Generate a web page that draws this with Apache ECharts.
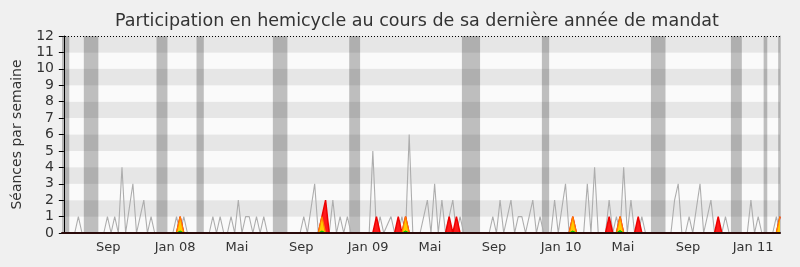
<!DOCTYPE html>
<html>
<head>
<meta charset="utf-8">
<script src="https://cdn.jsdelivr.net/npm/echarts@6/dist/echarts.min.js"></script>
<style>
html,body{margin:0;padding:0;background:#f0f0f0;}
#c{width:800px;height:267px;}
</style>
</head>
<body>
<div id="c"></div>
<script>
// Weekly values (week index 0..197)
const grayWeekly = [
  0,0,0,0,1,0,0,0,0,0,
  0,0,1,0,1,0,4,0,1.5,3,
  0,1,2,0,1,0,0,0,0,0,
  0,1,0,1,0,0,0,0,0,0,
  0,1,0,1,0,0,1,0,2,0,
  1,1,0,1,0,1,0,0,0,0,
  0,0,0,0,0,0,1,0,1.5,3,
  0,0,1,0,2,0,1,0,1,0,
  0,0,0,0,0,5,0,1,0,0.5,
  1,0,0,1,0,6,0,0,0,1,
  2,0,3,0,2,0,1,2,0,1,
  0,0,0,0,0,0,0,0,1,0,
  2,0,1,2,0,1,1,0,1,2,
  0,1,0,0,0,2,0,1.5,3,0,
  0,0,0,0,3,0,4,0,0,0,
  2,0,1,0,4,0,2,0,0,1,
  0,0,0,0,0,0,0,0,2,3,
  0,0,1,0,1.5,3,0,1,2,0,
  0,0,1,0,0,0,0,0,0,2,
  0,1,0,0,0,0,1,0
];
// sparse [week, value]
const redWeeks = [[32,1],[71,1],[72,2],[86,1],[92,1],[94,1],[106,1],[108,1],[140,1],[150,1],[153,1],[158,1],[180,1],[197,1]];
const yellowWeeks = [[32,1],[71,1],[94,1],[140,1],[153,1],[197,1]];
const greenWeeks = [[32,0.12],[71,0.12],[94,0.12],[140,0.12],[153,0.15]];
// vacation periods [first week, last week]
const vacances = [[0,1],[6,9],[26,28],[37,38],[58,61],[79,81],[110,114],[132,133],[162,165],[184,186],[193,193],[197,197]];
// x tick labels and their week positions
const xTickLabels = ['Sep','Jan 08','Mai','Sep','Jan 09','Mai','Sep','Jan 10','Mai','Sep','Jan 11'];
const xTickWeeks = [12.2,30.6,47.6,65.3,83.7,100.7,118.3,136.8,153.8,171.7,189.6];
const yTicks = [0,1,2,3,4,5,6,7,8,9,10,11,12];

const N = grayWeekly.length;
function expand(sparse){
  const arr = new Array(N).fill(0);
  sparse.forEach(([w,v]) => { arr[w] = v; });
  return arr.map((v,i)=>[i,v]);
}
const grayData = grayWeekly.map((v,i)=>[i,v]);
const redData = expand(redWeeks);
const yellowData = expand(yellowWeeks);
const greenData = expand(greenWeeks);

const chart = echarts.init(document.getElementById('c'), null, {renderer:'canvas'});
const FONT = 'DejaVu Sans';
chart.setOption({
  animation:false,
  backgroundColor:'#f0f0f0',
  textStyle:{fontFamily:FONT},
  title:{
    text:'Participation en hemicycle au cours de sa dernière année de mandat',
    left:110, top:7,
    textStyle:{fontFamily:FONT,fontSize:17.5,fontWeight:'normal',color:'#333'}
  },
  grid:{left:62,right:20,top:36,bottom:34},
  xAxis:{
    type:'value', min:-0.5, max:N-1, z:10,
    axisLine:{show:true,onZero:false,lineStyle:{color:'#2a0a0a',width:2}},
    axisTick:{show:false},
    splitLine:{show:false},
    axisLabel:{
      customValues:xTickWeeks,
      color:'#333', fontFamily:FONT, fontSize:13, margin:8,
      formatter:function(v){
        let best=0, d=1e9;
        xTickWeeks.forEach((w,k)=>{ if(Math.abs(w-v)<d){d=Math.abs(w-v);best=k;} });
        return xTickLabels[best];
      }
    }
  },
  yAxis:[{
    type:'value', min:0, max:12, interval:1,
    name:'Séances par semaine', nameLocation:'middle', nameGap:38,
    nameTextStyle:{fontFamily:FONT,fontSize:14,color:'#333'},
    axisLine:{show:true,lineStyle:{color:'#000',width:1}},
    axisTick:{show:true,length:5,lineStyle:{color:'#000'}},
    axisLabel:{color:'#333',fontFamily:FONT,fontSize:14,margin:8},
    splitLine:{show:false},
    splitArea:{show:true,areaStyle:{color:['#fafafa','#e6e6e6']}}
  },{
    type:'value', min:0, max:12, position:'right',
    axisLine:{show:true,lineStyle:{color:'#c4c4c4',width:1}},
    axisTick:{show:false}, axisLabel:{show:false}, splitLine:{show:false}
  }],
  series:[
    {
      type:'line', data:[], z:1, silent:true,
      markArea:{
        silent:true,
        itemStyle:{color:'rgba(0,0,0,0.24)'},
        data:vacances.map(([a,b])=>[{xAxis:a-0.5},{xAxis:b+0.5}])
      }
    },
    {
      type:'line', data:grayData, z:2, symbol:'none', silent:true,
      lineStyle:{color:'#adadad',width:1.1}
    },
    {
      type:'line', data:redData, z:3, symbol:'none', silent:true,
      lineStyle:{color:'#ee0000',width:1.5},
      areaStyle:{color:'#ff1a1a',opacity:1}
    },
    {
      type:'line', data:yellowData, z:4, symbol:'none', silent:true,
      lineStyle:{color:'#ff7f00',width:1.2},
      areaStyle:{color:'#ffcc00',opacity:1}
    },
    {
      type:'line', data:greenData, z:5, symbol:'none', silent:true,
      lineStyle:{color:'#00bb00',width:1},
      areaStyle:{color:'#00cc00',opacity:1}
    },
    {
      type:'line', data:[], z:6, silent:true,
      markLine:{
        silent:true, symbol:'none', label:{show:false},
        lineStyle:{type:[1,2],color:'#000',width:1},
        data:[{yAxis:12}]
      }
    }
  ]
});
</script>
</body>
</html>
